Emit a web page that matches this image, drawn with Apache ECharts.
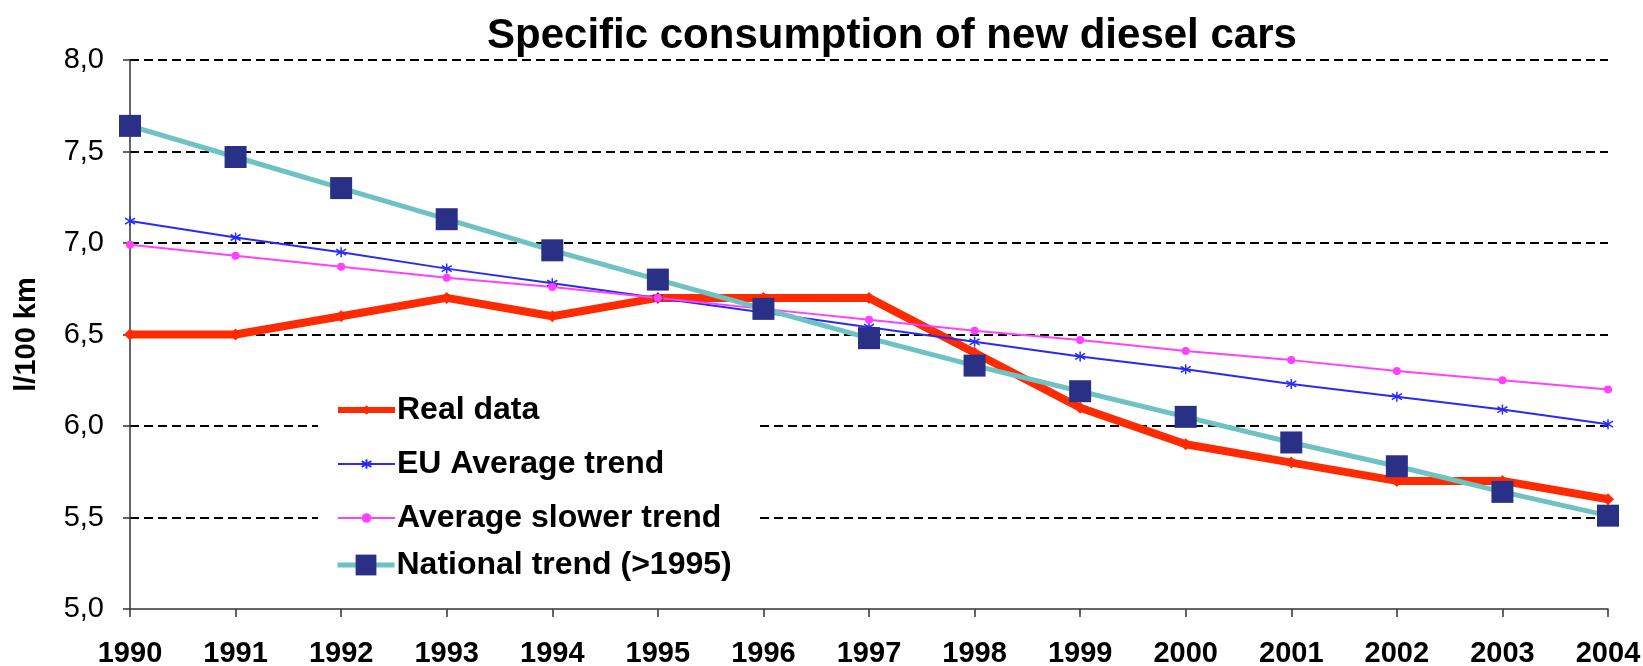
<!DOCTYPE html>
<html>
<head>
<meta charset="utf-8">
<script src="https://cdn.jsdelivr.net/npm/echarts@6/dist/echarts.min.js"></script>
<style>
  html, body { margin: 0; padding: 0; background: #fff; }
  #chart { width: 1643px; height: 666px; }
</style>
</head>
<body>
<div id="chart"></div>
<script>
// values (l/100 km)
const years = ['1990', '1991', '1992', '1993', '1994', '1995', '1996', '1997', '1998', '1999', '2000', '2001', '2002', '2003', '2004']
const realData = [6.5, 6.5, 6.6, 6.7, 6.6, 6.7, 6.7, 6.7, 6.4, 6.1, 5.9, 5.8, 5.7, 5.7, 5.6]
const euTrend = [7.12, 7.03, 6.95, 6.86, 6.78, 6.70, 6.62, 6.54, 6.46, 6.38, 6.31, 6.23, 6.16, 6.09, 6.01]
const slowerTrend = [6.99, 6.93, 6.87, 6.81, 6.76, 6.70, 6.64, 6.58, 6.52, 6.47, 6.41, 6.36, 6.30, 6.25, 6.20]
const nationalTrend = [7.64, 7.47, 7.30, 7.13, 6.96, 6.80, 6.64, 6.48, 6.33, 6.19, 6.05, 5.91, 5.78, 5.64, 5.51]
const yMin = 5
const yMax = 8
const yStep = 0.5

const FONT = "'Liberation Sans', Arial, sans-serif"
const starPath = 'path://M5,0L5,10M0,2L10,8M0,8L10,2'

const legendText = {
  fontFamily: FONT,
  fontSize: 32,
  fontWeight: 'bold',
  lineHeight: 30,
  color: '#000',
  padding: [0, 0, 0, -3]
}

const chart = echarts.init(document.getElementById('chart'), null, { renderer: 'canvas' })

chart.setOption({
  animation: false,
  backgroundColor: '#fff',
  title: {
    text: 'Specific consumption of new diesel cars',
    left: 482,
    top: 10,
    textStyle: {
      fontFamily: FONT,
      fontSize: 42,
      fontWeight: 'bold',
      color: '#000'
    }
  },
  grid: {
    left: 130,
    right: 35,
    top: 60,
    bottom: 57,
    containLabel: false,
    outerBoundsMode: 'none'
  },
  legend: [{
    data: [
      { name: 'Real data', lineStyle: { width: 6 } },
      { name: 'EU Average trend', lineStyle: { width: 2 } },
      { name: 'Average slower trend', lineStyle: { width: 2 } }
    ],
    orient: 'vertical',
    left: 318,
    top: 389,
    padding: [5, 38, 5, 17],
    backgroundColor: '#fff',
    itemWidth: 57,
    itemHeight: 12,
    itemGap: 22,
    selectedMode: false,
    textStyle: legendText
  }, {
    data: [
      { name: 'National trend (>1995)', lineStyle: { width: 5 } }
    ],
    orient: 'vertical',
    left: 318,
    top: 549,
    padding: [0, 10, 0, 17],
    backgroundColor: '#fff',
    itemWidth: 57,
    itemHeight: 26,
    selectedMode: false,
    textStyle: legendText
  }],
  xAxis: {
    type: 'category',
    data: years,
    boundaryGap: false,
    axisLine: { lineStyle: { color: '#333', width: 1.5 } },
    axisTick: { show: true, length: 8, lineStyle: { color: '#333', width: 1.5 } },
    axisLabel: {
      interval: 0,
      margin: 30,
      fontFamily: FONT,
      fontSize: 29,
      fontWeight: 'bold',
      color: '#000'
    },
    splitLine: { show: false }
  },
  yAxis: {
    type: 'value',
    min: yMin,
    max: yMax,
    interval: yStep,
    name: 'l/100 km',
    nameLocation: 'middle',
    nameRotate: 90,
    nameGap: 89,
    nameTextStyle: {
      fontFamily: FONT,
      fontSize: 29,
      fontWeight: 'bold',
      color: '#000'
    },
    axisLine: { show: true, lineStyle: { color: '#333', width: 1.5 } },
    axisTick: { show: true, length: 7, lineStyle: { color: '#333', width: 1.5 } },
    axisLabel: {
      margin: 26,
      fontFamily: FONT,
      fontSize: 29,
      color: '#000',
      formatter: function (value) {
        return value.toFixed(1).replace('.', ',')
      }
    },
    splitLine: {
      show: true,
      showMinLine: false,
      lineStyle: { color: '#000', width: 2, type: [9, 5] }
    }
  },
  series: [{
    name: 'Real data',
    type: 'line',
    data: realData,
    symbol: 'diamond',
    symbolSize: 12,
    itemStyle: { color: '#ff2a00' },
    lineStyle: { color: '#ff2a00', width: 8 },
    emphasis: { disabled: true }
  }, {
    name: 'EU Average trend',
    type: 'line',
    data: euTrend,
    symbol: starPath,
    symbolSize: 10,
    itemStyle: { color: '#2a2af5', borderColor: '#2a2af5', borderWidth: 1.5 },
    lineStyle: { color: '#2a2af5', width: 2 },
    emphasis: { disabled: true }
  }, {
    name: 'Average slower trend',
    type: 'line',
    data: slowerTrend,
    symbol: 'circle',
    symbolSize: 8,
    itemStyle: { color: '#ff40ff' },
    lineStyle: { color: '#ff40ff', width: 2 },
    emphasis: { disabled: true }
  }, {
    name: 'National trend (>1995)',
    type: 'line',
    data: nationalTrend,
    symbol: 'rect',
    symbolSize: 22,
    itemStyle: { color: '#2b3087' },
    lineStyle: { color: '#6fc2c2', width: 5 },
    emphasis: { disabled: true }
  }]
})
</script>
</body>
</html>
